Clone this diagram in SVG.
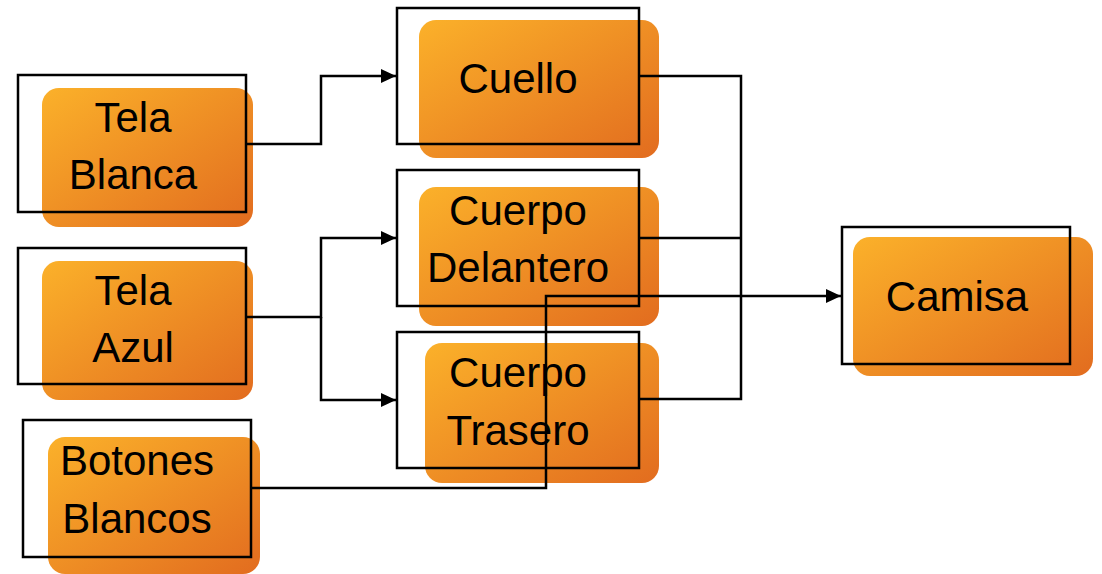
<svg xmlns="http://www.w3.org/2000/svg" width="1102" height="574" viewBox="0 0 1102 574">
<defs>
<linearGradient id="og" x1="0" y1="0" x2="1" y2="1">
<stop offset="0" stop-color="#FBB12A"/>
<stop offset="1" stop-color="#E26C1F"/>
</linearGradient>
<marker id="ah" markerWidth="15" markerHeight="14" refX="15" refY="7" orient="auto" markerUnits="userSpaceOnUse">
<path d="M0,0 L15,7 L0,14 Z" fill="#000"/>
</marker>
<style>
.bg{fill:url(#og);}
.fr{fill:none;stroke:#000;stroke-width:2.5;}
.t{font-family:"Liberation Sans",Arial,sans-serif;font-size:42px;fill:#000;text-anchor:middle;}
.c{fill:none;stroke:#000;stroke-width:2.5;}
</style>
</defs>
<rect width="1102" height="574" fill="#fff"/>
<g id="tela-blanca">
<rect class="bg" x="42" y="88" width="211" height="139" rx="17"/>
<rect class="fr" x="18" y="75" width="228" height="137"/>
<text class="t" x="133" y="132">Tela</text>
<text class="t" x="133" y="189">Blanca</text>
</g>
<g id="tela-azul">
<rect class="bg" x="42" y="261" width="211" height="139" rx="17"/>
<rect class="fr" x="18" y="248" width="228" height="136"/>
<text class="t" x="133" y="305">Tela</text>
<text class="t" x="133" y="362">Azul</text>
</g>
<g id="botones-blancos">
<rect class="bg" x="48" y="437" width="212" height="137" rx="17"/>
<rect class="fr" x="23" y="420" width="228" height="137"/>
<text class="t" x="137" y="475">Botones</text>
<text class="t" x="137" y="533">Blancos</text>
</g>
<g id="cuello">
<rect class="bg" x="419" y="20" width="240" height="138" rx="17"/>
<rect class="fr" x="397" y="8" width="242" height="136"/>
<text class="t" x="518" y="93">Cuello</text>
</g>
<g id="cuerpo-delantero">
<rect class="bg" x="419" y="187" width="240" height="139" rx="17"/>
<rect class="fr" x="397" y="170" width="242" height="136"/>
<text class="t" x="518" y="225">Cuerpo</text>
<text class="t" x="518" y="282">Delantero</text>
</g>
<g id="cuerpo-trasero">
<rect class="bg" x="425" y="343" width="234" height="140" rx="17"/>
<rect class="fr" x="397" y="332" width="242" height="136"/>
<text class="t" x="518" y="387">Cuerpo</text>
<text class="t" x="518" y="445">Trasero</text>
</g>
<g id="camisa">
<rect class="bg" x="853" y="237" width="240" height="139" rx="17"/>
<rect class="fr" x="842" y="227" width="228" height="137"/>
<text class="t" x="957" y="311">Camisa</text>
</g>
<g id="connectors">
<polyline class="c" points="246,144 321,144 321,76 396,76" marker-end="url(#ah)"/>
<polyline class="c" points="246,317 321,317 321,238 396,238" marker-end="url(#ah)"/>
<polyline class="c" points="321,317 321,400 396,400" marker-end="url(#ah)"/>
<polyline class="c" points="639,76 741,76 741,399 639,399"/>
<line class="c" x1="639" y1="238" x2="741" y2="238"/>
<polyline class="c" points="251,488 546,488 546,296 841,296" marker-end="url(#ah)"/>
</g>
</svg>
